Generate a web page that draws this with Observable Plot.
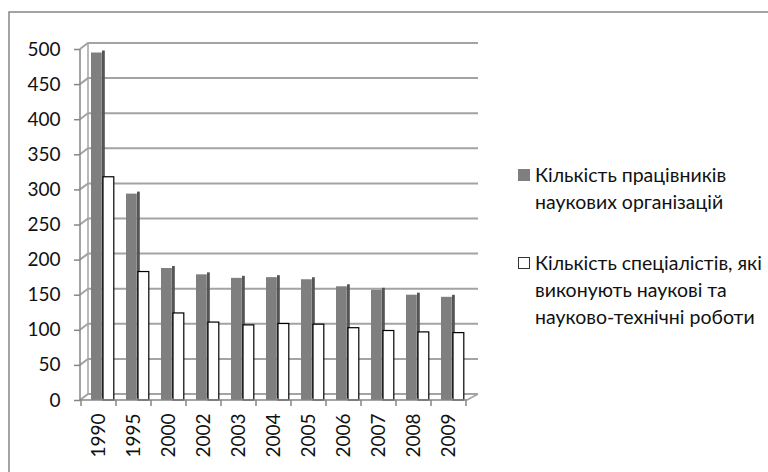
<!DOCTYPE html>
<html><head><meta charset="utf-8">
<script src="https://cdn.jsdelivr.net/npm/d3@7"></script>
<script src="https://cdn.jsdelivr.net/npm/@observablehq/plot@0.6"></script>
<style>
body{margin:0;background:#fff;}
#wrap{position:relative;width:768px;height:472px;overflow:hidden;font-family:Lato,"Noto Sans",sans-serif;}
#legend{position:absolute;left:518px;top:161px;font-size:19.5px;line-height:27px;color:#111;white-space:nowrap;}
.item{position:relative;padding-left:17px;}
.item + .item{margin-top:34px;}
.sw{position:absolute;left:0;top:8px;width:12px;height:12px;box-sizing:border-box;}
</style></head><body><div id="wrap"></div>
<script>
const years = ["1990","1995","2000","2002","2003","2004","2005","2006","2007","2008","2009"];
const workers = [495,294,188,179,174,175,172,162,157,150,147];
const specialists = [318,183,124,111,107,109,108,103,99,97,96];
const seriesLines = [
  ["Кількість працівників", "наукових організацій"],
  ["Кількість спеціалістів, які", "виконують наукові та", "науково-технічні роботи"]
];
const seriesColors = ["#7f7f7f", "#ffffff"];
const yTicks = [0,50,100,150,200,250,300,350,400,450,500];

const rowsW = years.map((y,i)=>({year:y, value:workers[i]}));
const rowsS = years.map((y,i)=>({year:y, value:specialists[i]}));

const depthX = 8, depthY = -6;
const gridColor = "#a3a3a3", axisColor = "#868686";

function backWall(index, scales, values, dims) {
  const {y} = scales;
  const L = dims.marginLeft, R = dims.width - dims.marginRight;
  const g = d3.create("svg:g").attr("fill","none");
  g.append("path").attr("d", `M9,${dims.height+5}V12H${dims.width+5}`).attr("stroke", axisColor).attr("stroke-width",1.5);
  for (const v of yTicks) {
    const yy = y(v);
    g.append("path").attr("d", `M${L},${yy}L${L+depthX},${yy+depthY}H${R+depthX+3}`)
      .attr("stroke", gridColor).attr("stroke-width", 2);
  }
  g.append("line").attr("x1",L+depthX).attr("x2",L+depthX).attr("y1",y(500)+depthY).attr("y2",y(0)+depthY)
    .attr("stroke", gridColor).attr("stroke-width",1.5);
  g.append("line").attr("x1",R).attr("y1",y(0)).attr("x2",R+depthX+3).attr("y2",y(0)+depthY)
    .attr("stroke", gridColor).attr("stroke-width",1.5);
  return g.node();
}

function frontAxes(index, scales, values, dims) {
  const {x, y} = scales;
  const L = dims.marginLeft, R = dims.width - dims.marginRight;
  const g = d3.create("svg:g").attr("fill","none").attr("stroke", axisColor).attr("stroke-width",1.5);
  g.append("line").attr("x1",L).attr("x2",L).attr("y1",y(500)).attr("y2",y(0));
  g.append("line").attr("x1",L).attr("x2",R).attr("y1",y(0)).attr("y2",y(0));
  const bw = x.bandwidth();
  for (let i = 0; i <= years.length; i++) {
    const xx = i < years.length ? x(years[i]) : x(years[years.length-1]) + bw;
    g.append("line").attr("x1",xx).attr("x2",xx).attr("y1",y(0)).attr("y2",y(0)+6);
  }
  return g.node();
}

const band = 387/11;
const chart = Plot.plot({
  width: 768,
  height: 472,
  marginLeft: 80,
  marginRight: 301,
  marginTop: 49,
  marginBottom: 72,
  style: {fontFamily: "Lato, 'Noto Sans', sans-serif", color: "#111", background: "transparent"},
  x: {type: "band", domain: years, padding: 0},
  y: {domain: [0, 500]},
  marks: [
    backWall,
    Plot.barY(rowsW, {x: "year", y: "value", fill: seriesColors[0], insetLeft: 10, insetRight: band - 21}),
    Plot.barY(rowsW, {x: "year", y: "value", fill: "#555555", insetLeft: 21, insetRight: band - 24, dy: -2}),
    Plot.barY(rowsS, {x: "year", y: "value", fill: seriesColors[1], stroke: "#000", strokeWidth: 1.2, insetLeft: 22, insetRight: 2.2}),
    frontAxes,
    Plot.axisY({ticks: yTicks, tickSize: 6, tickPadding: 14, fontSize: 19, label: null, stroke: axisColor, strokeWidth: 1.5}),
    Plot.axisX({tickRotate: -90, tickSize: 0, tickPadding: 13, fontSize: 19, label: null})
  ]
});
const wrap = document.getElementById("wrap");
wrap.appendChild(chart);
const leg = document.createElement("div");
leg.id = "legend";
leg.innerHTML = seriesLines.map((lines,i)=>
  `<div class="item"><span class="sw" style="background:${seriesColors[i]};border:1px solid ${i? '#333':'#7f7f7f'}"></span>${lines.join("<br>")}</div>`).join("");
wrap.appendChild(leg);
</script></body></html>
